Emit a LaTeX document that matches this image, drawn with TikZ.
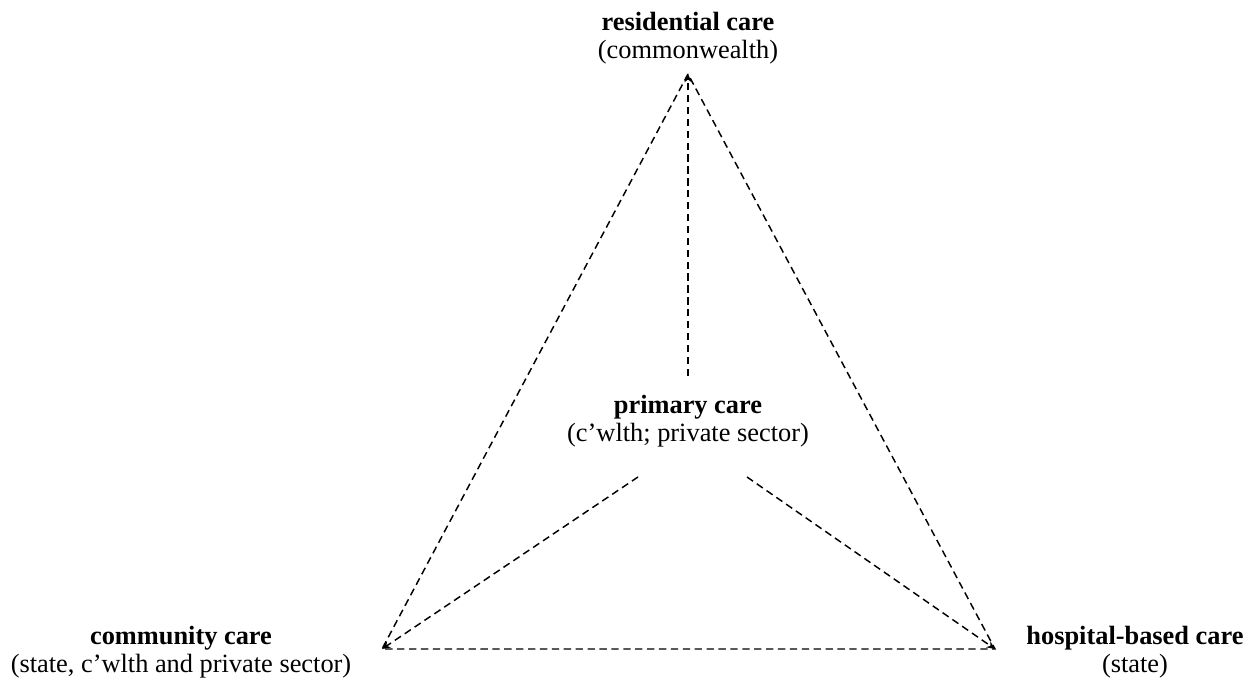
\documentclass[tikz,border=0pt]{standalone}
\usepackage{fontspec}
\setmainfont{Liberation Serif}
\usetikzlibrary{arrows.meta}
\tikzset{
  carebox/.style={align=center, inner sep=0pt, font=\fontsize{14.4}{15.3}\selectfont},
  rim/.style={dashed, dash pattern=on 4pt off 2.5pt, line width=0.8pt},
  spoke/.style={rim, -{Stealth[length=4.5pt,width=4pt]}}
}
\begin{document}
\begin{tikzpicture}[x=0.0192cm,y=-0.0192cm]
\useasboundingbox (0,0) rectangle (1255,682);
% corners of the triangle
\coordinate (top) at (688,74);
\coordinate (left) at (382,649);
\coordinate (right) at (995,649);
% care labels
\node[carebox] (res) at (688,38) {\textbf{residential care}\\(commonwealth)};
\node[carebox] (prim) at (688,421) {\textbf{primary care}\\(c'wlth; private sector)};
\node[carebox] (comm) at (181,652) {\textbf{community care}\\(state, c'wlth and private sector)};
\node[carebox] (hosp) at (1135,652) {\textbf{hospital-based care}\\(state)};
% spoke ends below primary care
\coordinate (up) at (688,376);
\coordinate (dl) at (638,477);
\coordinate (dr) at (747,477);
% triangle
\draw [rim] (top) -- (left) -- (right) -- cycle;
% spokes
\draw [spoke] (up) -- (top);
\draw [spoke] (dl) -- (left);
\draw [spoke] (dr) -- (right);
\end{tikzpicture}
\end{document}
